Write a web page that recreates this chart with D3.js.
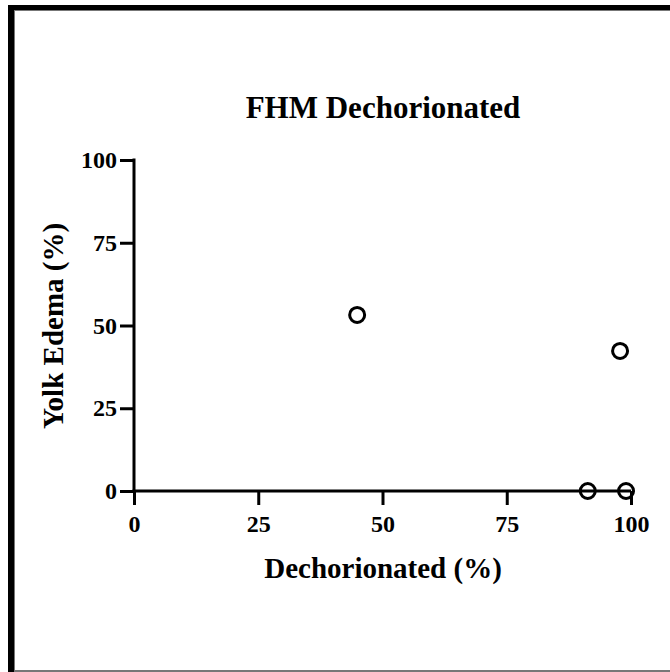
<!DOCTYPE html>
<html><head><meta charset="utf-8">
<script src="https://cdn.jsdelivr.net/npm/d3@7"></script>
<style>html,body{margin:0;padding:0;background:#fff;}svg{display:block;}</style>
</head><body>
<script>
const title = "FHM Dechorionated";
const xLabel = "Dechorionated (%)";
const yLabel = "Yolk Edema (%)";
const xTicks = [0, 25, 50, 75, 100];
const yTicks = [0, 25, 50, 75, 100];
const xValues = [44.9, 97.8, 91.3, 99.0];
const yValues = [53.2, 42.3, 0, 0];

const W = 670, H = 672;
const svg = d3.select("body").append("svg").attr("width", W).attr("height", H);
svg.append("rect").attr("width", W).attr("height", H).attr("fill", "#fff");

// frame
svg.append("rect").attr("x", 8).attr("y", 5).attr("width", 6).attr("height", H - 5).attr("fill", "#000");
svg.append("rect").attr("x", 8).attr("y", 5).attr("width", W - 8).attr("height", 5).attr("fill", "#000");
svg.append("rect").attr("x", 14).attr("y", 10).attr("width", 1).attr("height", H - 10).attr("fill", "#777");
svg.append("rect").attr("x", 14).attr("y", 10).attr("width", W - 14).attr("height", 1).attr("fill", "#777");
svg.append("rect").attr("x", 14).attr("y", 670).attr("width", W - 14).attr("height", 2).attr("fill", "#777");

const x = d3.scaleLinear().domain([0, 100]).range([134, 631]);
const y = d3.scaleLinear().domain([0, 100]).range([491, 160]);
const font = "'Liberation Serif','Times New Roman',serif";

const xAxis = svg.append("g").attr("transform", `translate(0,${y(0)})`)
  .call(d3.axisBottom(x).tickValues(xTicks).tickSize(14).tickPadding(10).tickSizeOuter(0));
const yAxis = svg.append("g").attr("transform", `translate(${x(0)},0)`)
  .call(d3.axisLeft(y).tickValues(yTicks).tickSize(14).tickPadding(3).tickSizeOuter(0));
[xAxis, yAxis].forEach(g => {
  g.select(".domain").attr("stroke", "#000").attr("stroke-width", 3);
  g.selectAll(".tick line").attr("stroke", "#000").attr("stroke-width", 3);
  g.selectAll(".tick text").attr("fill", "#000").style("font-family", font)
    .style("font-size", "24px").style("font-weight", "bold");
});
xAxis.select(".domain").attr("d", `M${x(0)-1.5},0H${x(100)}`);
yAxis.select(".domain").attr("d", `M0,${y(0)+1.5}V${y(100)-1.5}`);

svg.append("text").attr("x", 383).attr("y", 118).attr("text-anchor", "middle")
  .style("font-family", font).style("font-size", "31px").style("font-weight", "bold").text(title);
svg.append("text").attr("x", 383).attr("y", 578).attr("text-anchor", "middle")
  .style("font-family", font).style("font-size", "29px").style("font-weight", "bold").text(xLabel);
svg.append("text").attr("transform", "translate(63,326) rotate(-90)").attr("text-anchor", "middle")
  .style("font-family", font).style("font-size", "29px").style("font-weight", "bold").text(yLabel);

svg.append("g").selectAll("circle").data(xValues.map((v, i) => [v, yValues[i]])).join("circle")
  .attr("cx", d => x(d[0])).attr("cy", d => y(d[1])).attr("r", 7.5)
  .attr("fill", "none").attr("stroke", "#000").attr("stroke-width", 3);
</script>
</body></html>
